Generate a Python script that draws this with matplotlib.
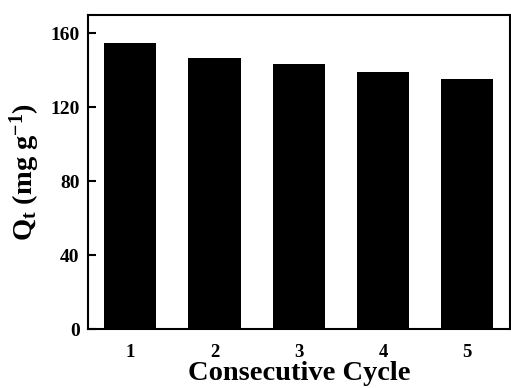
import matplotlib
matplotlib.use("Agg")
import matplotlib.pyplot as plt

# data
cycles = [1, 2, 3, 4, 5]
qt = [155.1, 146.5, 143.6, 139.4, 135.3]
yticks = [0, 40, 80, 120, 160]

plt.rcParams['font.family'] = 'Liberation Serif'
plt.rcParams['font.weight'] = 'bold'
plt.rcParams['mathtext.fontset'] = 'custom'
plt.rcParams['mathtext.rm'] = 'Liberation Serif:bold'
plt.rcParams['mathtext.it'] = 'Liberation Serif:bold'
plt.rcParams['mathtext.bf'] = 'Liberation Serif:bold'

fig = plt.figure(figsize=(5.11, 3.88), dpi=100)
ax = fig.add_axes([88/511, 1-329/388, (509.5-88)/511, (329-15)/388])

ax.bar(cycles, qt, width=0.62, color='black')
ax.set_xlim(0.5, 5.5)
ax.set_ylim(0, 170)
ax.set_yticks(yticks)
ax.set_xticks(cycles)

for s in ax.spines.values():
    s.set_linewidth(1.5)
ax.tick_params(axis='y', direction='in', length=6, width=1.5, labelsize=14, pad=6)
ax.tick_params(axis='x', length=0, labelsize=13.5, pad=11)

ax.set_xlabel('Consecutive Cycle', fontsize=20.5, fontweight='bold', labelpad=0)
ax.set_ylabel(r'Q$_\mathrm{t}$ (mg g$^{-1}$)', fontsize=20.5, fontweight='bold', labelpad=6)

fig.savefig('out.png', dpi=100)
